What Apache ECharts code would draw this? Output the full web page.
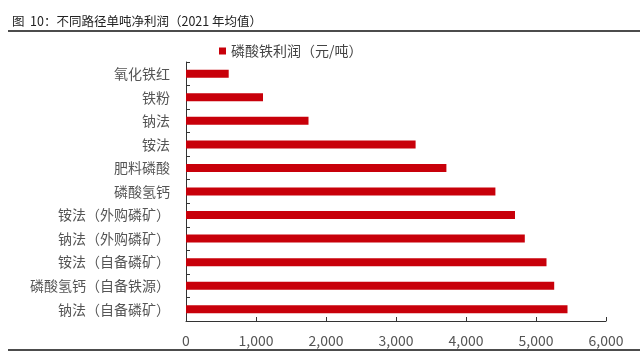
<!DOCTYPE html>
<html>
<head>
<meta charset="utf-8">
<script src="https://cdn.jsdelivr.net/npm/echarts@6/dist/echarts.min.js"></script>
<style>
  html, body { margin: 0; padding: 0; background: #fff; }
  #chart { width: 640px; height: 352px; }
</style>
</head>
<body>
<div id="chart"></div>
<script>
const categories = ['氧化铁红', '铁粉', '钠法', '铵法', '肥料磷酸', '磷酸氢钙',
  '铵法（外购磷矿）', '钠法（外购磷矿）', '铵法（自备磷矿）', '磷酸氢钙（自备铁源）', '钠法（自备磷矿）'];
const profit = [610, 1100, 1750, 3280, 3720, 4420, 4700, 4840, 5150, 5260, 5450];
const seriesName = '磷酸铁利润（元/吨）';

const font = '"Noto Sans CJK SC", "Noto Sans", sans-serif';
const myChart = echarts.init(document.getElementById('chart'));

const option = {
  animation: false,
  textStyle: { fontFamily: font },
  title: {
    text: '图  10：不同路径单吨净利润（2021 年均值）',
    left: 7, top: 10,
    textStyle: { fontSize: 12.5, fontWeight: 'normal', color: '#222', fontFamily: font }
  },
  legend: {
    data: [seriesName],
    top: 39, left: 214,
    icon: 'rect', itemWidth: 7, itemHeight: 7, itemGap: 6,
    textStyle: { fontSize: 14, color: '#444', fontFamily: font }
  },
  grid: { left: 186, right: 34, top: 62, bottom: 31 },
  xAxis: {
    type: 'value',
    min: 0, max: 6000, interval: 1000,
    axisLine: { show: true, lineStyle: { color: '#333' } },
    axisTick: { show: true, inside: true, length: 4, lineStyle: { color: '#333' } },
    splitLine: { show: false },
    axisLabel: {
      fontSize: 14, color: '#555', margin: 13,
      formatter: v => v.toLocaleString('en-US')
    }
  },
  yAxis: {
    type: 'category',
    data: categories,
    inverse: true,
    axisLine: { show: true, lineStyle: { color: '#333' } },
    axisTick: { show: true, inside: true, length: 4, lineStyle: { color: '#333' } },
    axisLabel: { fontSize: 14, color: '#555', margin: 16 }
  },
  series: [{
    name: seriesName,
    type: 'bar',
    data: profit,
    barWidth: 8,
    itemStyle: { color: '#C8000A' }
  }],
  graphic: [
    { type: 'line', shape: { x1: 8, y1: 31, x2: 640, y2: 31 }, style: { stroke: '#111', lineWidth: 1.5 } },
    { type: 'line', shape: { x1: 8, y1: 350, x2: 640, y2: 350 }, style: { stroke: '#111', lineWidth: 1.5 } }
  ]
};

option && myChart.setOption(option);
</script>
</body>
</html>
